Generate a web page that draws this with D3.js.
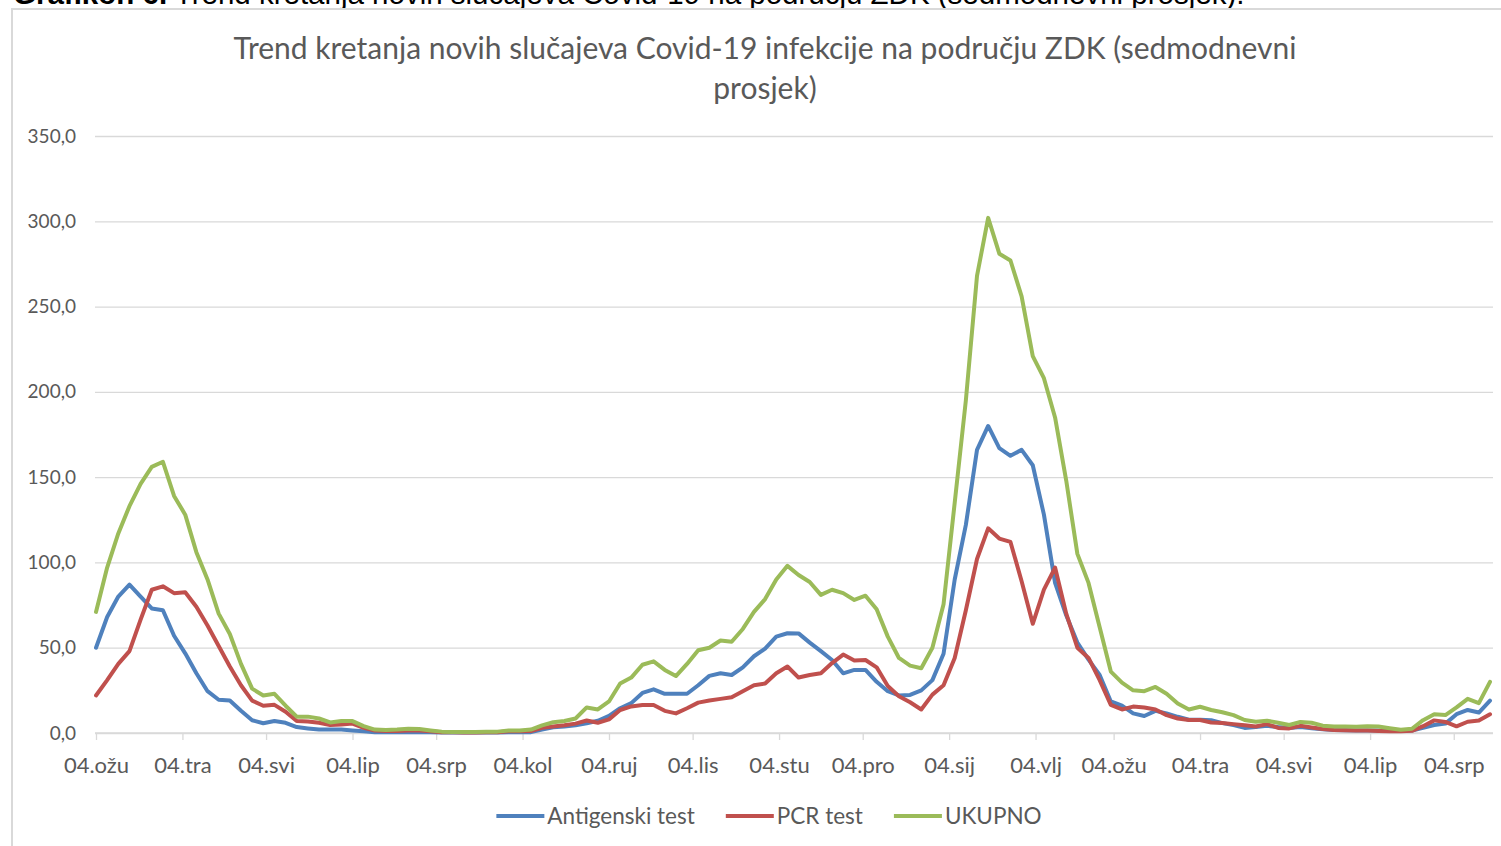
<!DOCTYPE html>
<html>
<head>
<meta charset="utf-8">
<script src="https://cdn.jsdelivr.net/npm/d3@7"></script>
<style>
  body { margin: 0; background: #fff; overflow: hidden; }
  #chart text { font-family: Lato, "Open Sans", sans-serif; }
</style>
</head>
<body>
<div id="chart"></div>
<script>
// seven-day averages, one reading every 4 days starting 04.03.2021
const startDate = "2021-03-04";
const stepDays = 4;

const antigen = [50,68,80,87,80,73,72,57,46.7,35,24.5,19.5,19,13,7.5,5.7,7,6,3.5,2.7,
  2,2,2,1.5,1,0.5,0.5,0.5,0.5,0.5,0.4,0.3,0.3,0.3,0.3,0.3,0.3,0.4,0.4,0.5,
  2,3.3,3.8,4.5,5.7,7.2,10,14.5,17.5,23.5,25.6,23,23,23,28,33.5,35,34,38.5,45,
  49.5,56.5,58.5,58.4,53,48,42.8,35,37,37,30,24.5,22,22.3,25,31,46.5,90,122,166,
  180,167,162.5,166,157,128,88,69,53,43,34,18.5,16,11.5,10,13,11.5,9.5,7.8,7.8,
  7.5,5.8,4.7,3,3.5,4.2,3.5,3,3.5,2.8,2.2,1.8,1.6,1.5,1.5,1.5,1.3,1.2,1.5,3,
  4.7,5.5,11,13.5,12,19];

const pcr = [22,31,40.5,48,66.5,84,86,82,82.5,74,63,51,39,28,19,16,16.5,12.5,7,6.8,
  6,4.7,5,5.5,3,1.5,1.2,1.2,1.5,1.5,1,0.5,0.4,0.3,0.3,0.4,0.5,1,1,1.2,
  3,3.8,4.5,5.5,7.3,6,8,13.5,15.6,16.4,16.4,13,11.5,14.5,17.8,19,20,21,24.5,28,
  29,35,39,32.5,34,35,41,46,42.5,42.8,38.5,27.5,21.5,18,13.8,22.5,28,44,72,102,
  120,114,112,89,64,84,97,70,50,44,31,16.5,13.8,15.5,15,13.8,10.5,8.5,7.6,7.6,
  6.2,5.8,5.2,4.5,3.8,5.2,3,2.7,4.2,3.2,2.3,1.8,1.6,1.5,1.5,1.2,1,1,1.3,4,
  7.4,6.5,3.9,6.6,7.3,11];

const ukupno = [71,97,117,133,146,156,159,139,128,106,90,70,58,40.5,26,22,23,16,9.6,9.6,
  8.5,6.2,7,7,4,2,1.8,2,2.5,2.3,1.5,0.8,0.6,0.6,0.6,0.7,0.8,1.5,1.5,2,
  4.5,6.3,7,8.5,15,13.8,18.5,29,32.5,40,42,37,33.4,40.5,48.5,50,54.2,53.5,61,71,
  78.5,90,98,92.6,88.5,81,84,82,78,80.5,72.5,56.5,44,39.5,38,50,75.5,135,195,268,
  302,281,277,256,221,208,185,148,105,88,62,36,29.5,25,24.5,27,23,17.3,13.8,15.4,
  13.5,12.2,10.5,7.6,6.6,7.2,6,4.7,6.5,6,4.3,3.8,3.8,3.7,3.9,3.8,2.8,1.9,2.5,7.5,
  11,10.5,15,20,17.5,30];

const seriesNames = ["Antigenski test", "PCR test", "UKUPNO"];
const seriesColors = ["#4f81bd", "#c0504d", "#9bbb59"];

const xTickDates = ["2021-03-04","2021-04-04","2021-05-04","2021-06-04","2021-07-04","2021-08-04",
  "2021-09-04","2021-10-04","2021-11-04","2021-12-04","2022-01-04","2022-02-04","2022-03-04",
  "2022-04-04","2022-05-04","2022-06-04","2022-07-04"];
const xTickLabels = ["04.ožu","04.tra","04.svi","04.lip","04.srp","04.kol","04.ruj","04.lis",
  "04.stu","04.pro","04.sij","04.vlj","04.ožu","04.tra","04.svi","04.lip","04.srp"];
const yTicks = [0, 50, 100, 150, 200, 250, 300, 350];

const titleLines = ["Trend kretanja novih slučajeva Covid-19 infekcije na području ZDK (sedmodnevni", "prosjek)"];

let width = 1501, height = 846;
let plot = {left: 95, right: 1493, top: 136, bottom: 733};
let textColor = "#595959", gridColor = "#d9d9d9";

let parseDate = d3.timeParse("%Y-%m-%d");
let start = parseDate(startDate);
let dates = antigen.map(function(v, i){ return d3.timeDay.offset(start, i * stepDays); });

let svg = d3.select("#chart").append("svg")
    .attr("width", width)
    .attr("height", height);

// cut-off caption line above the chart frame
let cap = svg.append("text")
    .attr("x", 13)
    .attr("y", 4)
    .style("font-family", "'Liberation Sans', Arial, sans-serif")
    .style("font-size", "29.5px")
    .style("fill", "#000");
cap.append("tspan").style("font-weight", "bold").text("Grafikon 6.");
cap.append("tspan").text(" Trend kretanja novih slučajeva Covid-19 na području ZDK (sedmodnevni prosjek).");

// chart frame
svg.append("path")
    .attr("d", "M12,846 V9 H1501")
    .style("fill", "none")
    .style("stroke", gridColor)
    .style("stroke-width", 2);

// title
svg.append("g").selectAll("text")
    .data(titleLines)
    .join("text")
    .attr("x", 765)
    .attr("y", function(d, i){ return 48 + i * 40; })
    .attr("dy", "0.35em")
    .attr("text-anchor", "middle")
    .style("font-size", "30px")
    .style("fill", textColor)
    .text(function(d){ return d; });

let x = d3.scaleTime()
    .domain([start, dates[dates.length - 1]])
    .range([96, 1490]);

let y = d3.scaleLinear()
    .domain([0, 350])
    .range([plot.bottom, plot.top]);

let fmt = function(d){ return d3.format(".1f")(d).replace(".", ","); };

let yAxis = d3.axisLeft(y)
    .tickValues(yTicks)
    .tickFormat(fmt)
    .tickSize(-(plot.right - plot.left))
    .tickPadding(19);

let gy = svg.append("g")
    .attr("transform", "translate(" + plot.left + ",0)")
    .call(yAxis);
gy.select(".domain").remove();
gy.selectAll("line").style("stroke", gridColor).style("stroke-width", 1.3);
gy.selectAll("text")
    .style("font-size", "19px")
    .style("fill", textColor);

let xAxis = d3.axisBottom(x)
    .tickValues(xTickDates.map(parseDate))
    .tickFormat(function(d, i){ return xTickLabels[i]; })
    .tickSize(7);

let gx = svg.append("g")
    .attr("transform", "translate(0," + plot.bottom + ")")
    .call(xAxis);
gx.select(".domain").remove();
gx.selectAll("line").style("stroke", gridColor).style("stroke-width", 1.3);
gx.selectAll("text")
    .attr("y", 32)
    .attr("dy", "0.35em")
    .style("font-size", "22px")
    .style("fill", textColor);

// axis line
svg.append("line")
    .attr("x1", plot.left).attr("x2", plot.right)
    .attr("y1", plot.bottom).attr("y2", plot.bottom)
    .style("stroke", gridColor)
    .style("stroke-width", 1.5);

let series = [antigen, pcr, ukupno];

let line = d3.line()
    .x(function(d, i){ return x(dates[i]); })
    .y(function(d){ return y(d); });

svg.append("g").selectAll("path")
    .data(series)
    .join("path")
    .attr("d", line)
    .style("fill", "none")
    .style("stroke", function(d, i){ return seriesColors[i]; })
    .style("stroke-width", 4)
    .style("stroke-linejoin", "round")
    .style("stroke-linecap", "round");

// legend, centred under the chart
let legend = svg.append("g");
let items = legend.selectAll("g")
    .data(seriesNames)
    .join("g");
items.append("line")
    .attr("x1", 0).attr("x2", 48)
    .attr("y1", 816).attr("y2", 816)
    .style("stroke", function(d, i){ return seriesColors[i]; })
    .style("stroke-width", 4);
items.append("text")
    .attr("x", 51)
    .attr("y", 816)
    .attr("dy", "0.35em")
    .style("font-size", "22.5px")
    .style("fill", textColor)
    .text(function(d){ return d; });

let offs = [], pos = 0;
items.each(function(){
    let w = 51 + d3.select(this).select("text").node().getComputedTextLength();
    offs.push(pos);
    pos += w + 31;
});
let total = pos - 31;
items.attr("transform", function(d, i){ return "translate(" + (769 - total / 2 + offs[i]) + ",0)"; });
</script>
</body>
</html>
